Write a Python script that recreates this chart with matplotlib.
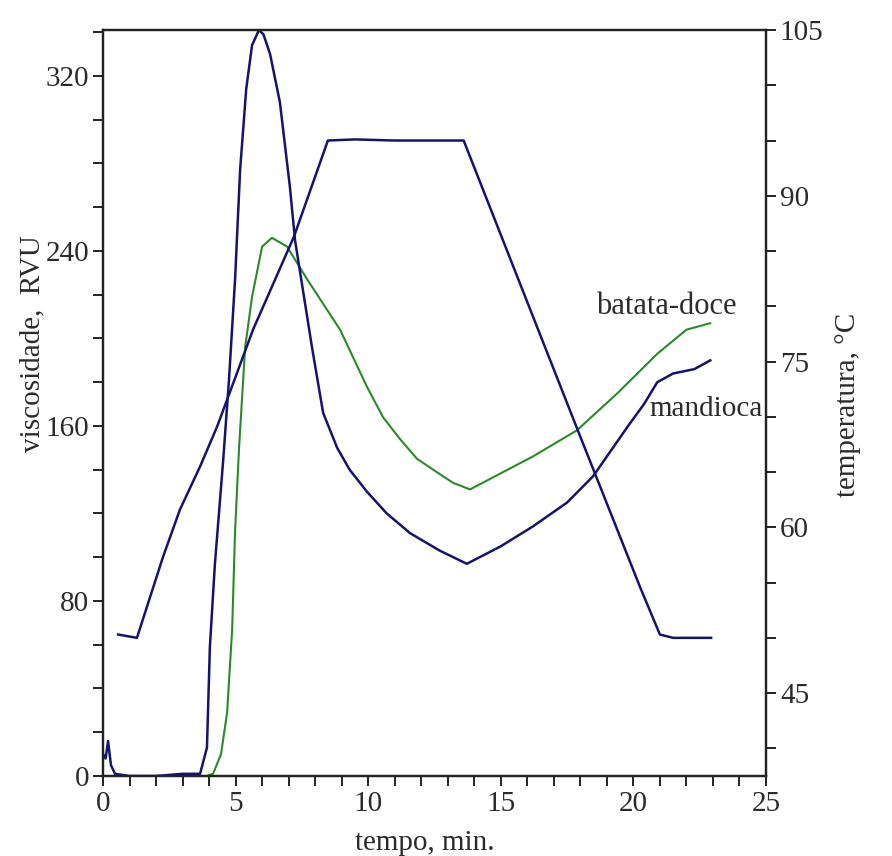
import matplotlib
matplotlib.use("Agg")
import matplotlib.pyplot as plt
from matplotlib.ticker import MultipleLocator

plt.rcParams['font.family'] = ['Liberation Serif', 'DejaVu Serif']

# --- data ---
temp_t = [0.57, 1.28, 2.26, 2.9, 3.66, 4.3, 4.95, 5.66, 7.2, 8.48, 9.5, 11.0, 12.5, 13.6, 17.9, 20.25, 21.0, 21.5, 22.93]
temp_c = [50.3, 50.0, 57.3, 61.6, 65.5, 69.1, 73.3, 77.9, 86.3, 95.0, 95.1, 95.0, 95.0, 95.0, 68.8, 54.6, 50.3, 50.0, 50.0]

mand_t = [0.0, 0.1, 0.19, 0.3, 0.45, 1.0, 2.0, 3.0, 3.66, 3.92, 4.03, 4.22, 4.53, 4.75, 4.98, 5.17, 5.4,
          5.62, 5.88, 6.05, 6.3, 6.67, 7.05, 7.24, 7.88, 8.3, 8.83, 9.3, 9.95, 10.7, 11.58, 12.7, 13.72,
          15.0, 16.2, 17.5, 18.48, 19.8, 20.4, 20.9, 21.5, 22.3, 22.9]
mand_v = [10, 8, 16, 5, 1, 0, 0, 1, 1, 13, 59, 97, 144, 181, 227, 277, 314,
          334, 341, 339, 330, 308, 269, 245, 196, 166, 150, 140, 130, 120, 111, 103, 97,
          105, 114, 125, 137, 160, 170, 180, 184, 186, 190]

bata_t = [0.0, 2.0, 3.9, 4.15, 4.45, 4.68, 4.87, 4.98, 5.13, 5.36, 5.62, 6.0, 6.37, 6.94, 7.7,
          8.94, 9.95, 10.56, 11.2, 11.84, 12.45, 13.2, 13.84, 16.2, 17.87, 19.4, 20.9, 22.0, 22.9]
bata_v = [0, 0, 0, 1, 10, 29, 67, 112, 150, 196, 219, 242, 246, 242, 227,
          204, 178, 164, 154, 145, 140, 134, 131, 146, 158, 175, 193, 204, 207]

x_ticks = [0, 5, 10, 15, 20, 25]
visc_ticks = [0, 80, 160, 240, 320]
temp_ticks = [45, 60, 75, 90, 105]

navy = '#14146e'
green = '#2a8a2a'
txt = '#2b2b2b'

fig = plt.figure(figsize=(8.92, 8.56), dpi=100)
ax = fig.add_axes([103/892, 80/856, 663/892, 746/856])
ax2 = ax.twinx()

ax.plot(mand_t, mand_v, color=navy, lw=1.8, zorder=3)
ax.plot(bata_t, bata_v, color=green, lw=1.5, zorder=2)
ax2.plot(temp_t, temp_c, color=navy, lw=1.8)

ax.set_xlim(0, 25)
ax.set_ylim(0, 341)
ax2.set_ylim(37.5, 105)

ax.set_xticks(x_ticks)
ax.xaxis.set_minor_locator(MultipleLocator(1))
ax.set_yticks(visc_ticks)
ax.yaxis.set_minor_locator(MultipleLocator(20))
ax2.set_yticks(temp_ticks)
ax2.yaxis.set_minor_locator(MultipleLocator(5))

fs = 21
for a in (ax, ax2):
    a.tick_params(which='both', direction='out', length=7, width=1.4, colors='#222222',
                  labelcolor=txt, labelsize=fs)
    for s in a.spines.values():
        s.set_linewidth(1.6)
        s.set_color('#222222')
ax.tick_params(axis='x', pad=4)
ax.tick_params(axis='y', pad=3)
ax2.tick_params(axis='y', pad=3)

ax.set_xlabel('tempo, min.', fontsize=fs, color=txt, va='center')
ax.xaxis.set_label_coords(0.486, -0.090)
ax.set_ylabel('viscosidade,  RVU', fontsize=fs, color=txt, va='center')
ax.yaxis.set_label_coords(-0.106, 0.579)
ax2.set_ylabel('temperatura, °C', fontsize=fs, color=txt, va='center', rotation=90)
ax2.yaxis.set_label_coords(1.124, 0.497)

ax.text(18.6, 208, 'batata-doce', fontsize=fs + 1, color=txt, va='bottom', ha='left')
ax.text(20.6, 162, 'mandioca', fontsize=fs, color=txt, va='bottom', ha='left')

fig.savefig('out.png', dpi=100, facecolor='white')
